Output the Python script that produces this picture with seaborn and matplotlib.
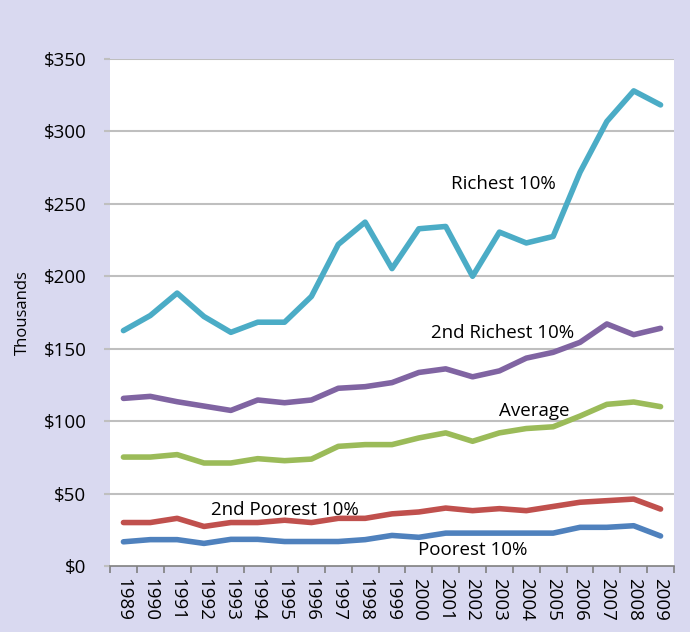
import matplotlib
matplotlib.use("Agg")
import matplotlib.pyplot as plt
import seaborn as sns
import pandas as pd
import numpy as np
from matplotlib.patches import Rectangle

years = list(range(1989, 2010))

richest = [162.5, 172.9, 188.4, 172.2, 161.3, 168.3, 168.3, 186.1, 222.0, 237.4, 205.3,
           232.8, 234.4, 200.0, 230.5, 223.0, 227.5, 271.8, 306.9, 328.0, 318.3]
second_richest = [115.7, 117.1, 113.4, 110.4, 107.4, 114.6, 112.7, 114.6, 122.7, 123.8, 126.6,
                  133.6, 136.1, 130.6, 134.7, 143.5, 147.5, 154.4, 167.1, 159.7, 164.1]
average = [75.2, 75.2, 76.9, 71.1, 71.1, 74.1, 72.7, 73.8, 82.6, 83.8, 83.8,
           88.4, 91.9, 86.1, 91.9, 94.9, 96.1, 103.5, 111.6, 113.2, 110.0]
second_poorest = [30.0, 30.0, 32.9, 27.3, 30.0, 30.0, 31.6, 30.0, 32.9, 32.9, 36.0,
                  37.3, 40.0, 38.2, 39.6, 38.2, 41.1, 44.0, 45.1, 46.2, 39.3]
poorest = [16.7, 18.2, 18.2, 15.6, 18.4, 18.4, 16.9, 16.9, 16.9, 18.2, 21.1,
           19.8, 22.7, 22.7, 22.7, 22.7, 22.7, 26.7, 26.7, 27.8, 20.7]

series_names = ["Richest 10%", "2nd Richest 10%", "Average", "2nd Poorest 10%", "Poorest 10%"]
series_values = [richest, second_richest, average, second_poorest, poorest]
colors = ["#4BACC6", "#8064A2", "#9BBB59", "#C0504D", "#4F81BD"]
y_ticks = [0, 50, 100, 150, 200, 250, 300, 350]

# inline series labels: (x index, value)
label_pos = {
    "Richest 10%": (14.15, 264),
    "2nd Richest 10%": (14.1, 161),
    "Average": (15.3, 107),
    "2nd Poorest 10%": (6.0, 38.6),
    "Poorest 10%": (13.0, 11),
}

rows = []
for name, vals in zip(series_names, series_values):
    for i, v in enumerate(vals):
        rows.append({"idx": i, "year": years[i], "value": v, "series": name})
df = pd.DataFrame(rows)

bg = "#D9D9F0"
plt.rcParams["font.family"] = ["Open Sans", "DejaVu Sans"]

fig = plt.figure(figsize=(6.94, 6.32), dpi=100, facecolor=bg)
fig.patches.append(Rectangle((690 / 694, 0), 4 / 694, 1, transform=fig.transFigure,
                             facecolor="white", edgecolor="none", zorder=0))
ax = fig.add_axes([110 / 694, 1 - 566 / 632, 564 / 694, 507 / 632])
ax.set_facecolor("white")

for v in y_ticks[1:]:
    ax.axhline(v, color="#BFBFBF", lw=1.5, zorder=1)

sns.lineplot(data=df, x="idx", y="value", hue="series", hue_order=series_names,
             palette=colors, linewidth=4, legend=False, ax=ax, zorder=3,
             solid_capstyle="round")

for name in series_names:
    x, y = label_pos[name]
    ax.text(x, y, name, ha="center", va="center", fontsize=13.5, color="black", zorder=4)

ax.set_xlim(-0.5, len(years) - 0.5)
ax.set_ylim(0, 350)
ax.set_yticks(y_ticks)
ax.set_yticklabels(["$%d" % v for v in y_ticks], fontsize=13.5)
ax.set_xticks(range(len(years)))
ax.set_xticklabels([str(y) for y in years], rotation=-90, fontsize=13.5)
ax.set_xticks(np.arange(-0.5, len(years)), minor=True)
ax.tick_params(axis="x", which="major", length=0, pad=9)
ax.tick_params(axis="x", which="minor", length=5, color="#808080", width=1.2)
ax.tick_params(axis="y", length=4, color="#BFBFBF", width=1.5, pad=13)
ax.set_xlabel("")
ax.set_ylabel("Thousands", fontsize=12, labelpad=9)

for side in ["top", "right", "left"]:
    ax.spines[side].set_visible(False)
ax.spines["bottom"].set_color("#808080")
ax.spines["bottom"].set_linewidth(1.2)

fig.savefig("out.png", dpi=100, facecolor=bg)
